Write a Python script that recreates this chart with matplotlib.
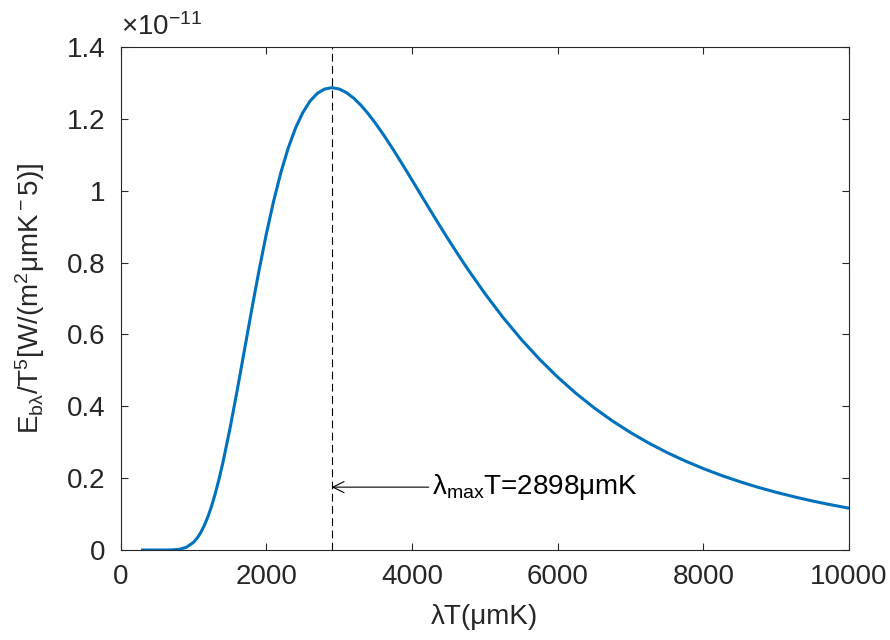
import matplotlib
matplotlib.use("Agg")
import matplotlib.pyplot as plt
from matplotlib.ticker import FuncFormatter

plt.rcParams['font.family'] = ['Liberation Sans', 'DejaVu Sans']
plt.rcParams['mathtext.fontset'] = 'custom'
plt.rcParams['mathtext.rm'] = 'Liberation Sans'
plt.rcParams['mathtext.it'] = 'Liberation Sans'
plt.rcParams['mathtext.default'] = 'regular'

# lambda*T (um K) and E_b_lambda/T^5 in units of 1e-11
lamT = [280, 600, 700, 800, 900, 1000, 1050, 1100, 1150, 1200, 1250, 1300, 1350,
        1400, 1500, 1600, 1700, 1800, 1900, 2000, 2100, 2200, 2300, 2400, 2500,
        2600, 2700, 2800, 2900, 3000, 3100, 3200, 3300, 3400, 3500, 3625, 3750,
        3875, 4000, 4125, 4250, 4375, 4500, 4625, 4750, 5000, 5250, 5500, 5750,
        6000, 6250, 6500, 6750, 7000, 7250, 7500, 7750, 8000, 8250, 8500, 8750,
        9000, 9250, 9500, 9750, 10000]
Eb = [0.0, 0.00002, 0.00026, 0.00177, 0.00723, 0.0211, 0.0328, 0.0485, 0.0686,
      0.0933, 0.1229, 0.1573, 0.1963, 0.2394, 0.3365, 0.4438, 0.5563, 0.6690,
      0.7777, 0.8790, 0.9704, 1.0503, 1.1181, 1.1736, 1.2170, 1.2493, 1.2708,
      1.2829, 1.2867, 1.2831, 1.2730, 1.2576, 1.2376, 1.2140, 1.1874, 1.1510,
      1.1120, 1.0714, 1.0297, 0.9878, 0.9460, 0.9046, 0.8641, 0.8247, 0.7864,
      0.7140, 0.6472, 0.5863, 0.5311, 0.4812, 0.4362, 0.3958, 0.3595, 0.3269,
      0.2977, 0.2714, 0.2478, 0.2266, 0.2074, 0.1902, 0.1746, 0.1606, 0.1479,
      0.1363, 0.1259, 0.1164]
lam_max = 2898
xticks = [0, 2000, 4000, 6000, 8000, 10000]
yticks = [0, 0.2, 0.4, 0.6, 0.8, 1.0, 1.2, 1.4]

fig = plt.figure(figsize=(8.9, 6.4), dpi=100)
ax = fig.add_axes([0.1355, 0.1406, 0.8185, 0.786])
ax.plot(lamT, Eb, color='#0072BD', lw=2.2, solid_capstyle='butt', solid_joinstyle='round')
ax.plot([lam_max, lam_max], [0, 1.4], color='black', lw=0.8, ls=(0, (7, 4)))
ax.annotate('', xy=(lam_max, 0.175), xytext=(4230, 0.175),
            arrowprops=dict(arrowstyle='->', color='black', lw=0.8,
                            shrinkA=0, shrinkB=0, mutation_scale=20))
ax.text(4270, 0.175, r'$\lambda_{max}$T=2898μmK', fontsize=20, va='center', ha='left')

ax.set_xlim(0, 10000)
ax.set_ylim(0, 1.4)
ax.set_xticks(xticks)
ax.set_yticks(yticks)
ax.yaxis.set_major_formatter(FuncFormatter(lambda v, p: ('%g' % round(v, 2))))
ax.tick_params(direction='in', length=5, width=0.8, labelsize=20, colors='#262626',
               top=True, right=True)
ax.tick_params(axis='x', pad=10)
ax.tick_params(axis='y', pad=11)
for s in ax.spines.values():
    s.set_color('#262626')
    s.set_linewidth(0.8)
ax.set_xlabel('λT(μmK)', fontsize=20, color='#262626', labelpad=10)
ax.set_ylabel(r'E$_{b\lambda}$/T$^5$[W/(m$^2$μmK$^-$5)]', fontsize=20, color='#262626', labelpad=14)
ax.text(0.0, 1.012, r'×10$^{-11}$', transform=ax.transAxes, fontsize=20,
        color='#262626', ha='left', va='bottom')
fig.savefig('out.png', dpi=100)
